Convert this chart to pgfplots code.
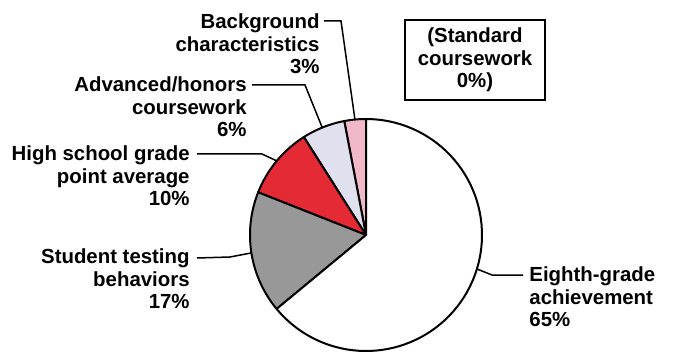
\documentclass[border=0pt]{standalone}
\usepackage{fontspec}
\setmainfont{Liberation Sans}
\usepackage{pgfplots}
\pgfplotsset{compat=1.18}
\definecolor{pinkc}{RGB}{240,184,200}
\definecolor{lavc}{RGB}{224,224,238}
\definecolor{redc}{RGB}{228,42,52}
\definecolor{grayc}{RGB}{152,152,152}
\def\cx{366}\def\cy{118}\def\R{116}
% slice from cumulative percent #1 to #2, counter-clockwise from the top
\newcommand{\slice}[3]{%
  \addplot[draw=black, line width=1pt, fill=#3, line join=round,
    domain={90+3.6*#1}:{90+3.6*#2}, samples=80, variable=\t]
    ({\cx+\R*cos(t)},{\cy+\R*sin(t)}) -- (axis cs:\cx,\cy) -- cycle;
}
\begin{document}
\begin{tikzpicture}
\begin{axis}[
  scale only axis, width=336.5pt, height=176.5pt,
  xmin=0, xmax=673, ymin=0, ymax=353,
  hide axis, clip=false,
]
\path (axis cs:0,0) rectangle (axis cs:673,353);
% shares (percent): background 3, advanced 6, GPA 10, testing 17, eighth grade 65
\slice{0}{3}{pinkc}
\slice{3}{9}{lavc}
\slice{9}{19}{redc}
\slice{19}{36}{grayc}
\slice{36}{100}{white}
\tikzset{lbl/.style={font=\fontsize{10.2}{11.2}\selectfont\bfseries, inner sep=0pt}}
\node[lbl, align=right, anchor=east] at (axis cs:320,309) {Background\\characteristics\\3\%};
\node[lbl, align=right, anchor=east] at (axis cs:247,246) {Advanced/honors\\coursework\\6\%};
\node[lbl, align=right, anchor=east] at (axis cs:190,177) {High school grade\\point average\\10\%};
\node[lbl, align=right, anchor=east] at (axis cs:190,74) {Student testing\\behaviors\\17\%};
\node[lbl, align=left, anchor=west] at (axis cs:529,56) {Eighth-grade\\achievement\\65\%};
\node[lbl, align=center, draw, line width=1pt, minimum width=70pt, minimum height=40pt] at (axis cs:475,293) {(Standard\\coursework\\0\%)};
\draw[line width=0.75pt] (axis cs:324,332) -- (axis cs:341,332) -- (axis cs:355,233);
\draw[line width=0.75pt] (axis cs:252,268) -- (axis cs:305,268) -- (axis cs:322,226);
\draw[line width=0.75pt] (axis cs:197,199) -- (axis cs:262,199) -- (axis cs:277,192);
\draw[line width=0.75pt] (axis cs:197,95) -- (axis cs:230,96) -- (axis cs:251,100);
\draw[line width=0.75pt] (axis cs:477,84) -- (axis cs:492,78) -- (axis cs:523,78);
\end{axis}
\end{tikzpicture}
\end{document}
